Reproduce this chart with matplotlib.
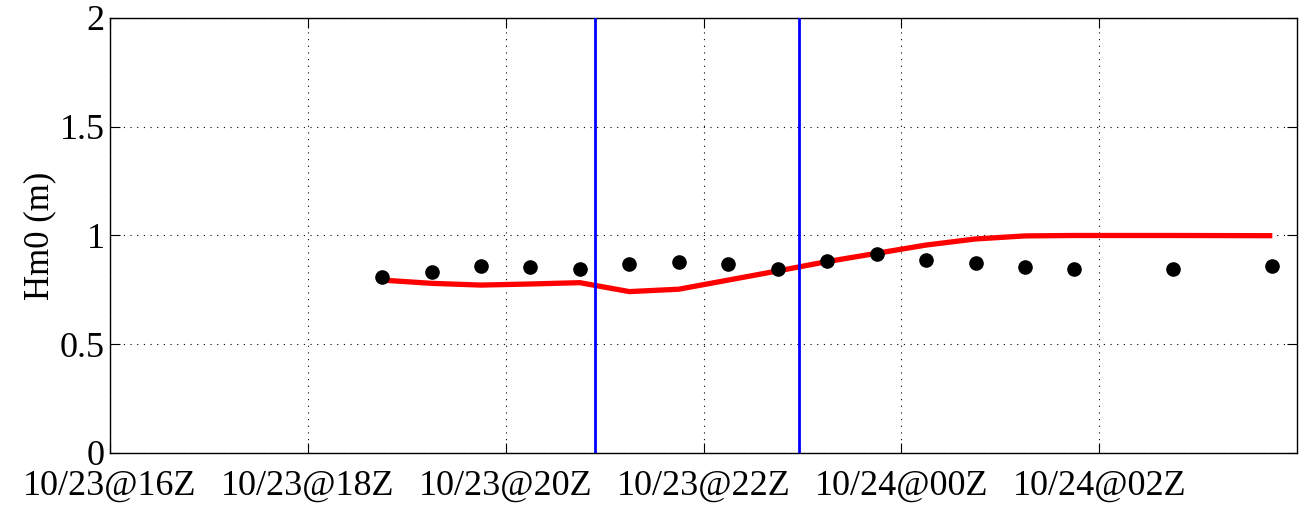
"""
Significant wave height: buoy observations vs model, with event markers.
"""
from datetime import datetime

import matplotlib
matplotlib.use("Agg")
import matplotlib.pyplot as plt
import matplotlib.dates as mdates

# observed Hm0 (half-hourly buoy records)
obs_times = [
    "2023-10-23 18:45", "2023-10-23 19:15", "2023-10-23 19:45", "2023-10-23 20:15",
    "2023-10-23 20:45", "2023-10-23 21:15", "2023-10-23 21:45", "2023-10-23 22:15",
    "2023-10-23 22:45", "2023-10-23 23:15", "2023-10-23 23:45", "2023-10-24 00:15",
    "2023-10-24 00:45", "2023-10-24 01:15", "2023-10-24 01:45", "2023-10-24 02:45",
    "2023-10-24 03:45",
]
obs_hm0 = [0.811, 0.834, 0.861, 0.854, 0.846, 0.869, 0.877, 0.868, 0.846,
           0.883, 0.914, 0.886, 0.875, 0.857, 0.845, 0.845, 0.860]

# modelled Hm0
model_hm0 = [0.795, 0.780, 0.772, 0.777, 0.783, 0.742, 0.753, 0.795, 0.837,
             0.880, 0.918, 0.956, 0.984, 0.998, 1.0, 1.0, 0.999]

# event markers
event_times = ["2023-10-23 20:54", "2023-10-23 22:58"]

x_start = "2023-10-23 16:00"
x_end = "2023-10-24 04:00"
tick_times = ["2023-10-23 16:00", "2023-10-23 18:00", "2023-10-23 20:00",
              "2023-10-23 22:00", "2023-10-24 00:00", "2023-10-24 02:00"]
tick_labels = ["10/23@16Z", "10/23@18Z", "10/23@20Z",
               "10/23@22Z", "10/24@00Z", "10/24@02Z"]


def to_dt(values):
    return [datetime.strptime(v, "%Y-%m-%d %H:%M") for v in values]


plt.rcParams["font.family"] = ["Liberation Serif", "DejaVu Serif"]

fig = plt.figure(figsize=(13.02, 5.05), dpi=100)
ax = fig.add_axes([0.0845, 0.103, 0.9117, 0.8614])

t_obs = to_dt(obs_times)
ax.plot(t_obs, model_hm0, color="#ff0000", lw=3.8, solid_capstyle="butt", zorder=3)
ax.plot(t_obs, obs_hm0, "o", color="black", ms=9.5, zorder=4)
for t in to_dt(event_times):
    ax.axvline(t, color="#0000ff", lw=2.0, zorder=5)

ax.set_xlim(*to_dt([x_start, x_end]))
ax.set_ylim(0, 2)
ax.set_xticks(mdates.date2num(to_dt(tick_times)))
ax.set_xticklabels(tick_labels)
ax.set_yticks([0, 0.5, 1, 1.5, 2])
ax.set_yticklabels(["0", "0.5", "1", "1.5", "2"])
ax.set_ylabel("Hm0 (m)", fontsize=25, labelpad=2)

ax.tick_params(axis="both", direction="in", length=7, width=0.8,
               top=True, right=True, labelsize=26, pad=4, colors="black")
ax.tick_params(axis="x", pad=12)
ax.grid(True, color="black", linestyle=(0, (1, 5)), linewidth=0.8)
for s in ax.spines.values():
    s.set_linewidth(1.0)

fig.savefig("out.png", dpi=100)
plt.close(fig)
